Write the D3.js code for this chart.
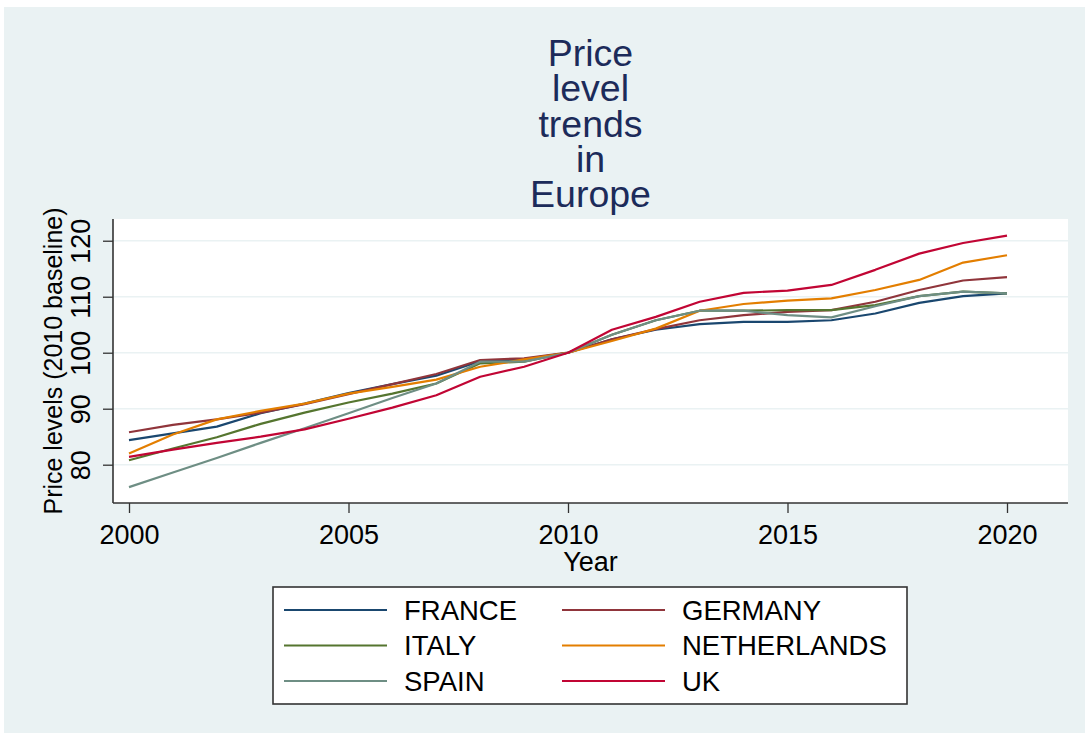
<!DOCTYPE html>
<html>
<head>
<meta charset="utf-8">
<script src="https://cdn.jsdelivr.net/npm/d3@7"></script>
<style>
  body { margin: 0; background: #ffffff; }
  svg { display: block; font-family: "Liberation Sans", Arial, Helvetica, sans-serif; }
</style>
</head>
<body>
<svg id="chart"></svg>
<script>
var years = [2000, 2001, 2002, 2003, 2004, 2005, 2006, 2007, 2008, 2009, 2010,
             2011, 2012, 2013, 2014, 2015, 2016, 2017, 2018, 2019, 2020];

var france      = [84.4, 85.6, 86.8, 89.2, 90.9, 92.8, 94.4, 95.9, 98.5, 98.8, 100, 102.4, 104.1, 105.1, 105.5, 105.5, 105.8, 107.0, 108.9, 110.1, 110.6];
var germany     = [85.8, 87.1, 88.1, 89.3, 90.8, 92.6, 94.4, 96.2, 98.7, 99.0, 100, 102.4, 104.2, 105.8, 106.7, 107.3, 107.6, 109.1, 111.2, 112.9, 113.5];
var italy       = [80.8, 82.9, 84.9, 87.3, 89.3, 91.1, 92.7, 94.5, 98.1, 98.4, 100, 103.2, 105.8, 107.5, 107.5, 107.6, 107.6, 108.5, 110.1, 110.9, 110.6];
var netherlands = [82.0, 85.4, 88.1, 89.6, 90.9, 92.7, 93.9, 95.2, 97.5, 98.8, 100, 102.1, 104.3, 107.5, 108.7, 109.3, 109.7, 111.2, 113.0, 116.1, 117.4];
var spain       = [76.0, 78.6, 81.2, 83.9, 86.5, 89.2, 91.9, 94.5, 98.4, 98.4, 100, 103.2, 105.8, 107.5, 107.5, 106.7, 106.3, 108.3, 110.1, 110.9, 110.6];
var uk          = [81.4, 82.7, 83.9, 85.0, 86.3, 88.2, 90.2, 92.4, 95.7, 97.5, 100, 104.1, 106.4, 109.1, 110.7, 111.1, 112.1, 114.8, 117.7, 119.6, 120.9];

var countries = ["FRANCE", "GERMANY", "ITALY", "NETHERLANDS", "SPAIN", "UK"];
var colors = ["#1a476f", "#90353b", "#55752f", "#e37e00", "#6e8e84", "#c10534"];
var seriesValues = [france, germany, italy, netherlands, spain, uk];

var xTicks = [2000, 2005, 2010, 2015, 2020];
var yTicks = [80, 90, 100, 110, 120];
var titleLines = ["Price", "level", "trends", "in", "Europe"];

var W = 1085, H = 733;
var plotL = 113, plotR = 1068, plotT = 219, plotB = 503;

var svg = d3.select("#chart")
  .attr("width", W)
  .attr("height", H);

// outer graph region
svg.append("rect")
  .attr("x", 4)
  .attr("y", 7)
  .attr("width", W - 4)
  .attr("height", H - 7)
  .attr("fill", "#eaf2f3");

// plot region
svg.append("rect")
  .attr("x", plotL)
  .attr("y", plotT)
  .attr("width", plotR - plotL)
  .attr("height", plotB - plotT)
  .attr("fill", "#ffffff");

var x = d3.scaleLinear()
  .domain([2000, 2020])
  .range([129, 1007]);

var y = d3.scaleLinear()
  .domain([73.16, 123.88])
  .range([plotB, plotT]);

// gridlines
svg.append("g")
  .selectAll("line")
  .data(yTicks)
  .join("line")
  .attr("x1", plotL)
  .attr("x2", plotR)
  .attr("y1", function(d) { return y(d); })
  .attr("y2", function(d) { return y(d); })
  .attr("stroke", "#eaf2f3")
  .attr("stroke-width", 1.6);

// series
var line = d3.line()
  .x(function(d, i) { return x(years[i]); })
  .y(function(d) { return y(d); });

svg.append("g")
  .selectAll("path")
  .data(seriesValues)
  .join("path")
  .attr("d", line)
  .attr("fill", "none")
  .attr("stroke", function(d, i) { return colors[i]; })
  .attr("stroke-width", 2.2)
  .attr("stroke-linejoin", "round");

// x axis
var xAxis = svg.append("g")
  .attr("transform", "translate(0," + plotB + ")")
  .call(d3.axisBottom(x).tickValues(xTicks).tickFormat(d3.format("d")).tickSize(10).tickPadding(6));
xAxis.select(".domain").remove();
xAxis.selectAll("line").attr("stroke", "#333333").attr("stroke-width", 1.3);
xAxis.selectAll("text")
  .attr("fill", "#000000")
  .attr("font-size", 27)
  .attr("dy", 0)
  .attr("y", 41);

// y axis
var yAxis = svg.append("g")
  .attr("transform", "translate(" + plotL + ",0)")
  .call(d3.axisLeft(y).tickValues(yTicks).tickSize(10));
yAxis.select(".domain").remove();
yAxis.selectAll("line").attr("stroke", "#333333").attr("stroke-width", 1.3);
yAxis.selectAll("text")
  .attr("fill", "#000000")
  .attr("font-size", 27)
  .attr("transform", "rotate(-90)")
  .attr("x", 0)
  .attr("y", -23)
  .attr("dy", 0)
  .attr("text-anchor", "middle");

svg.append("line")
  .attr("x1", plotL).attr("x2", plotR)
  .attr("y1", plotB).attr("y2", plotB)
  .attr("stroke", "#333333")
  .attr("stroke-width", 1.6);

svg.append("line")
  .attr("x1", plotL).attr("x2", plotL)
  .attr("y1", plotT).attr("y2", plotB)
  .attr("stroke", "#333333")
  .attr("stroke-width", 1.6);

// axis titles
svg.append("text")
  .text("Year")
  .attr("x", (plotL + plotR) / 2)
  .attr("y", 571)
  .attr("text-anchor", "middle")
  .attr("font-size", 27)
  .attr("fill", "#000000");

svg.append("text")
  .text("Price levels (2010 baseline)")
  .attr("transform", "translate(62," + ((plotT + plotB) / 2) + ") rotate(-90)")
  .attr("text-anchor", "middle")
  .attr("font-size", 25)
  .attr("fill", "#000000");

// title, wrapped onto several lines in one text
var title = svg.append("text")
  .attr("text-anchor", "middle")
  .attr("font-size", 37.5)
  .attr("fill", "#1c2b5a");

title.selectAll("tspan")
  .data(titleLines)
  .join("tspan")
  .text(function(d) { return d; })
  .attr("x", (plotL + plotR) / 2)
  .attr("y", function(d, i) { return 66 + i * 35.3; });

// legend
var legend = svg.append("g");

legend.append("rect")
  .attr("x", 273)
  .attr("y", 587)
  .attr("width", 634)
  .attr("height", 117)
  .attr("fill", "#ffffff")
  .attr("stroke", "#333333")
  .attr("stroke-width", 1.6);

var items = legend.selectAll("g")
  .data(countries)
  .join("g")
  .attr("transform", function(d, i) {
    return "translate(" + (i % 2 == 0 ? 284 : 562) + "," + (610 + Math.floor(i / 2) * 35.5) + ")";
  });

items.append("line")
  .attr("x1", 0)
  .attr("x2", 103)
  .attr("stroke", function(d, i) { return colors[i]; })
  .attr("stroke-width", 2.2);

items.append("text")
  .text(function(d) { return d; })
  .attr("x", 120)
  .attr("dy", "0.36em")
  .attr("font-size", 27.5)
  .attr("fill", "#000000");
</script>
</body>
</html>
